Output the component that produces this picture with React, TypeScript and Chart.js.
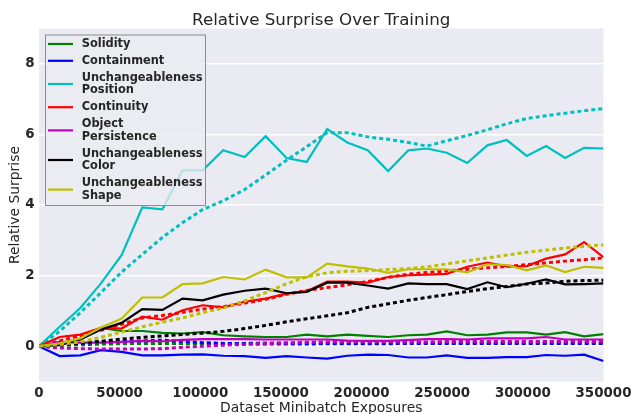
import React, { useEffect, useRef } from "react";
import { Chart, registerables } from "chart.js";

Chart.register(...registerables);

// ---------- data ----------
const xValues = [0, 12800, 25600, 38400, 51200, 64000, 76500, 89000, 101500, 114200, 127500, 140500, 153500, 166000, 178700, 191100, 203800, 216500, 229000, 240500, 252800, 265500, 278000, 290000, 302400, 314400, 326200, 338000, 350000];

const xTicks = [0, 50000, 100000, 150000, 200000, 250000, 300000, 350000];
const yTicks = [0, 2, 4, 6, 8];

const seriesNames = ["Solidity", "Containment", "Unchangeableness\nPosition", "Continuity", "Object\nPersistence", "Unchangeableness\nColor", "Unchangeableness\nShape"];

const solidity = [0, 0.08, 0.2, 0.52, 0.43, 0.43, 0.38, 0.36, 0.4, 0.31, 0.28, 0.26, 0.26, 0.33, 0.28, 0.33, 0.29, 0.26, 0.31, 0.33, 0.42, 0.31, 0.33, 0.39, 0.39, 0.33, 0.4, 0.28, 0.34];
const containment = [0, -0.28, -0.26, -0.11, -0.16, -0.26, -0.26, -0.24, -0.23, -0.27, -0.28, -0.33, -0.28, -0.32, -0.35, -0.27, -0.24, -0.25, -0.32, -0.32, -0.26, -0.33, -0.33, -0.31, -0.31, -0.25, -0.27, -0.24, -0.42];
const position = [0, 0.55, 1.08, 1.78, 2.58, 3.93, 3.88, 4.98, 4.98, 5.55, 5.36, 5.95, 5.33, 5.22, 6.15, 5.77, 5.55, 4.96, 5.55, 5.6, 5.48, 5.19, 5.69, 5.84, 5.39, 5.67, 5.33, 5.62, 5.6];
const continuity = [0, 0.26, 0.33, 0.52, 0.5, 0.84, 0.75, 1.02, 1.16, 1.1, 1.26, 1.35, 1.49, 1.56, 1.83, 1.83, 1.8, 1.96, 2.01, 2.03, 2.05, 2.25, 2.37, 2.26, 2.27, 2.48, 2.6, 2.95, 2.52];
const persistence = [0, 0.12, 0.1, 0.1, 0.12, 0.15, 0.14, 0.18, 0.2, 0.2, 0.2, 0.19, 0.19, 0.19, 0.19, 0.16, 0.15, 0.15, 0.17, 0.2, 0.2, 0.19, 0.22, 0.22, 0.22, 0.26, 0.19, 0.19, 0.19];
const color = [0, 0.03, 0.19, 0.47, 0.66, 1.05, 1.03, 1.35, 1.3, 1.46, 1.57, 1.63, 1.5, 1.54, 1.8, 1.8, 1.72, 1.63, 1.78, 1.76, 1.76, 1.62, 1.81, 1.67, 1.77, 1.89, 1.75, 1.76, 1.78];
const shape = [0, 0.08, 0.22, 0.53, 0.78, 1.38, 1.38, 1.76, 1.78, 1.96, 1.89, 2.17, 1.95, 1.95, 2.34, 2.26, 2.2, 2.08, 2.18, 2.18, 2.18, 2.09, 2.32, 2.3, 2.15, 2.29, 2.1, 2.25, 2.22];

const solidityFit = [0, 0.02, 0.04, 0.06, 0.07, 0.08, 0.08, 0.08, 0.08, 0.08, 0.08, 0.09, 0.09, 0.09, 0.1, 0.1, 0.1, 0.1, 0.1, 0.1, 0.11, 0.11, 0.11, 0.11, 0.12, 0.12, 0.12, 0.12, 0.12];
const containmentFit = [0, 0.05, 0.08, 0.11, 0.13, 0.15, 0.17, 0.14, 0.1, 0.08, 0.07, 0.06, 0.06, 0.06, 0.07, 0.07, 0.07, 0.07, 0.08, 0.08, 0.08, 0.08, 0.08, 0.08, 0.08, 0.08, 0.08, 0.08, 0.08];
const positionFit = [0, 0.42, 0.95, 1.52, 2.1, 2.6, 3.08, 3.5, 3.87, 4.12, 4.44, 4.85, 5.27, 5.65, 6.05, 6.05, 5.93, 5.86, 5.77, 5.67, 5.82, 5.97, 6.13, 6.3, 6.45, 6.53, 6.6, 6.67, 6.73];
const continuityFit = [0, 0.15, 0.3, 0.45, 0.62, 0.8, 0.87, 0.96, 1.05, 1.12, 1.22, 1.33, 1.47, 1.58, 1.66, 1.74, 1.83, 1.95, 2.04, 2.09, 2.13, 2.18, 2.22, 2.26, 2.31, 2.36, 2.41, 2.45, 2.5];
const persistenceFit = [0, -0.05, -0.07, -0.08, -0.08, -0.08, -0.07, -0.03, 0.0, 0.03, 0.05, 0.07, 0.09, 0.11, 0.12, 0.12, 0.12, 0.12, 0.12, 0.12, 0.13, 0.13, 0.13, 0.13, 0.13, 0.13, 0.13, 0.13, 0.13];
const colorFit = [0, 0.05, 0.09, 0.14, 0.2, 0.25, 0.29, 0.33, 0.37, 0.42, 0.5, 0.59, 0.69, 0.78, 0.86, 0.95, 1.1, 1.2, 1.3, 1.38, 1.46, 1.55, 1.63, 1.69, 1.76, 1.79, 1.84, 1.86, 1.87];
const shapeFit = [0, 0.05, 0.12, 0.25, 0.4, 0.55, 0.68, 0.8, 0.95, 1.08, 1.28, 1.52, 1.77, 1.97, 2.08, 2.12, 2.14, 2.17, 2.2, 2.25, 2.33, 2.42, 2.5, 2.58, 2.66, 2.72, 2.78, 2.83, 2.87];

const seriesValues = [solidity, containment, position, continuity, persistence, color, shape];
const fitValues = [solidityFit, containmentFit, positionFit, continuityFit, persistenceFit, colorFit, shapeFit];

// ---------- styles ----------
const seriesColors = ["#008000", "#0000ff", "#00bfbf", "#ff0000", "#bf00bf", "#000000", "#bfbf00"];
const FONT = "'DejaVu Sans', 'Liberation Sans', sans-serif";
const TEXT = "#262626";

const toPoints = (ys: number[]) => ys.map((y, i) => ({ x: xValues[i], y }));

const bgPlugin = {
  id: "bg",
  beforeDraw(chart: any) {
    const { ctx, chartArea } = chart;
    ctx.save();
    ctx.fillStyle = "#EAEAF2";
    ctx.fillRect(chartArea.left, chartArea.top, chartArea.right - chartArea.left, chartArea.bottom - chartArea.top);
    ctx.restore();
  },
};

const textPlugin = {
  id: "texts",
  afterDraw(chart: any) {
    const { ctx, chartArea } = chart;
    const cx = (chartArea.left + chartArea.right) / 2;
    const cy = (chartArea.top + chartArea.bottom) / 2;
    ctx.save();
    // title
    ctx.fillStyle = TEXT;
    ctx.font = `16.7px ${FONT}`;
    ctx.textAlign = "center";
    ctx.textBaseline = "alphabetic";
    ctx.fillText("Relative Surprise Over Training", cx, 24.5);
    // x title
    ctx.font = `13.9px ${FONT}`;
    ctx.fillText("Dataset Minibatch Exposures", cx, 412);
    // y title
    ctx.save();
    ctx.translate(18.5, cy);
    ctx.rotate(-Math.PI / 2);
    ctx.fillText("Relative Surprise", 0, 0);
    ctx.restore();

    // legend
    const lx = 45, ly = 34.5, lw = 161, lh = 171.5;
    ctx.fillStyle = "rgba(234,234,242,0.78)";
    ctx.fillRect(lx, ly, lw, lh);
    ctx.strokeStyle = "#8c8c8c";
    ctx.lineWidth = 1;
    ctx.strokeRect(lx + 0.5, ly + 0.5, lw - 1, lh - 1);
    const lineH = 12.8;
    let y = 37.6;
    ctx.font = `bold 11.4px ${FONT}`;
    ctx.textAlign = "left";
    ctx.textBaseline = "middle";
    seriesNames.forEach((name, i) => {
      const lines = name.split("\n");
      const blockH = lines.length * lineH;
      const mid = y + blockH / 2;
      ctx.strokeStyle = seriesColors[i];
      ctx.lineWidth = 2.2;
      ctx.beginPath();
      ctx.moveTo(48, mid);
      ctx.lineTo(73, mid);
      ctx.stroke();
      ctx.fillStyle = TEXT;
      lines.forEach((t, j) => {
        ctx.fillText(t, 81.7, y + lineH / 2 + j * lineH);
      });
      y += blockH + 4;
    });
    ctx.restore();
  },
};

export default function App() {
  const ref = useRef<HTMLCanvasElement | null>(null);

  useEffect(() => {
    if (!ref.current) return;
    const datasets: any[] = [];
    seriesValues.forEach((vals, i) => {
      datasets.push({
        label: seriesNames[i],
        data: toPoints(vals),
        borderColor: seriesColors[i],
        backgroundColor: seriesColors[i],
        borderWidth: 2.2,
        pointRadius: 0,
        fill: false,
        tension: 0,
        clip: 0,
      });
      datasets.push({
        label: seriesNames[i] + " fit",
        data: toPoints(fitValues[i]),
        borderColor: seriesColors[i],
        backgroundColor: seriesColors[i],
        borderWidth: 3,
        borderDash: [4, 3],
        borderCapStyle: "butt",
        pointRadius: 0,
        fill: false,
        tension: 0,
        clip: 0,
      });
    });
    datasets.forEach((d, k) => (d.order = -k));

    const tickFont = { family: FONT, size: 13.4, weight: "bold" as const };

    const chart = new Chart(ref.current, {
      type: "line",
      data: { datasets },
      plugins: [bgPlugin, textPlugin],
      options: {
        animation: false,
        responsive: false,
        devicePixelRatio: 1,
        layout: { padding: { top: 28.5, right: 30.5, bottom: 0, left: 0 } },
        plugins: {
          legend: { display: false },
          title: { display: false },
          tooltip: { enabled: false },
        },
        elements: { point: { radius: 0 } },
        scales: {
          x: {
            type: "linear",
            min: 0,
            max: 350000,
            grid: { display: false, drawTicks: false },
            border: { display: false },
            afterBuildTicks: (s: any) => {
              s.ticks = xTicks.map((v) => ({ value: v }));
            },
            afterFit: (s: any) => {
              s.height = 32.5;
              s.paddingLeft = 0;
              s.paddingRight = 0;
            },
            ticks: {
              font: tickFont,
              color: TEXT,
              padding: 4,
              maxRotation: 0,
              autoSkip: false,
              callback: (v: any) => String(v),
            },
          },
          y: {
            type: "linear",
            min: -1,
            max: 9,
            grid: { color: "#ffffff", lineWidth: 1.5, drawTicks: false },
            border: { display: false },
            afterBuildTicks: (s: any) => {
              s.ticks = yTicks.map((v) => ({ value: v }));
            },
            afterFit: (s: any) => {
              s.width = 39;
            },
            ticks: {
              font: tickFont,
              color: TEXT,
              padding: 4.5,
              callback: (v: any) => String(v),
            },
          },
        },
      },
    });
    return () => chart.destroy();
  }, []);

  return (
    <div style={{ position: "fixed", left: 0, top: 0, width: 634, height: 414, background: "#ffffff" }}>
      <canvas ref={ref} width={634} height={414} style={{ width: 634, height: 414, display: "block" }} />
    </div>
  );
}
